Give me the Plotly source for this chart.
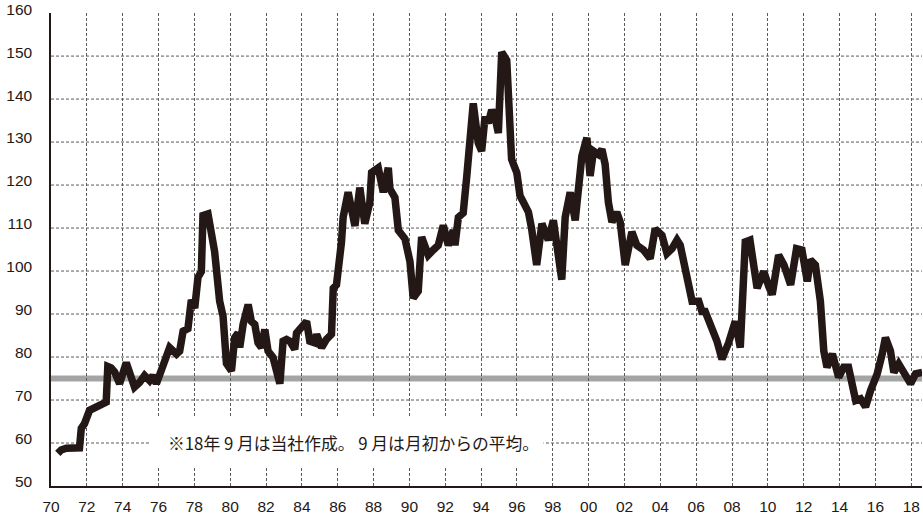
import plotly.graph_objects as go

# ---- data ----
years = [
    1970.38, 1970.57, 1970.85, 1971.22, 1971.59, 1971.69, 1971.87, 1972.15, 1972.61, 1972.99,
    1973.08, 1973.17, 1973.35, 1973.55, 1973.83, 1974.20, 1974.66, 1974.94, 1975.22, 1975.50,
    1975.69, 1975.88, 1976.25, 1976.62, 1977.00, 1977.18, 1977.37, 1977.64, 1977.83, 1978.02,
    1978.20, 1978.39, 1978.48, 1978.76, 1979.13, 1979.41, 1979.60, 1979.79, 1980.07, 1980.25,
    1980.44, 1980.53, 1980.72, 1981.00, 1981.18, 1981.37, 1981.55, 1981.74, 1981.93, 1982.11,
    1982.39, 1982.58, 1982.77, 1982.95, 1983.14, 1983.32, 1983.60, 1983.70, 1983.98, 1984.26,
    1984.44, 1984.72, 1984.82, 1985.10, 1985.37, 1985.65, 1985.75, 1985.93, 1986.21, 1986.30,
    1986.58, 1986.86, 1986.96, 1987.23, 1987.51, 1987.79, 1987.89, 1988.26, 1988.54, 1988.82,
    1988.91, 1989.19, 1989.38, 1989.75, 1990.03, 1990.21, 1990.49, 1990.68, 1991.05, 1991.33,
    1991.61, 1991.89, 1992.17, 1992.45, 1992.54, 1992.73, 1993.00, 1993.20, 1993.38, 1993.56,
    1993.84, 1994.03, 1994.22, 1994.40, 1994.59, 1994.78, 1994.96, 1995.15, 1995.43, 1995.61,
    1995.70, 1995.99, 1996.17, 1996.36, 1996.64, 1996.82, 1997.10, 1997.39, 1997.75, 1998.03,
    1998.50, 1998.69, 1998.97, 1999.25, 1999.62, 1999.90, 2000.08, 2000.27, 2000.55, 2000.74,
    2000.92, 2001.10, 2001.30, 2001.57, 2001.76, 2002.04, 2002.41, 2002.69, 2003.06, 2003.43,
    2003.71, 2004.09, 2004.37, 2004.65, 2004.93, 2005.11, 2005.30, 2005.49, 2005.77, 2006.14,
    2006.32, 2006.50, 2006.88, 2007.16, 2007.44, 2007.81, 2008.18, 2008.46, 2008.74, 2009.00,
    2009.40, 2009.77, 2010.05, 2010.24, 2010.60, 2010.90, 2011.27, 2011.60, 2011.90, 2012.20,
    2012.37, 2012.65, 2012.93, 2013.12, 2013.30, 2013.60, 2013.95, 2014.23, 2014.50, 2014.90,
    2015.17, 2015.45, 2015.73, 2016.10, 2016.38, 2016.56, 2016.84, 2017.03, 2017.30, 2017.58,
    2017.96, 2018.24, 2018.61,
]
values = [
    57.6, 58.4, 58.8, 58.8, 58.9, 63.4, 64.5, 67.6, 68.4, 69.1,
    69.5, 77.8, 77.5, 76.5, 73.8, 78.7, 73.0, 74.1, 75.7, 74.5,
    75.7, 73.8, 78.7, 82.2, 80.7, 81.4, 86.0, 86.6, 93.3, 91.4,
    98.5, 99.9, 112.9, 113.3, 104.5, 93.0, 89.5, 78.5, 76.8, 84.5,
    85.6, 82.2, 87.6, 92.2, 88.3, 87.6, 83.3, 82.2, 86.4, 81.4,
    79.9, 76.8, 73.8, 83.7, 84.1, 83.7, 81.8, 85.6, 86.8, 88.3,
    83.7, 83.3, 85.3, 82.2, 84.1, 85.3, 96.0, 96.8, 106.8, 112.5,
    118.3, 110.6, 110.5, 119.4, 111.0, 116.0, 122.9, 124.0, 118.3, 124.0,
    119.1, 117.1, 109.5, 107.5, 102.2, 93.7, 95.3, 107.9, 103.7, 104.9,
    106.0, 110.6, 106.0, 109.5, 106.0, 112.5, 113.5, 122.1, 131.7, 139.0,
    129.8, 127.9, 136.0, 134.4, 137.5, 135.6, 132.1, 150.9, 149.0, 132.1,
    126.0, 122.9, 117.5, 116.0, 113.7, 109.8, 101.4, 111.0, 107.2, 111.8,
    98.0, 112.5, 118.3, 111.8, 126.7, 131.0, 122.1, 127.9, 127.1, 128.3,
    124.8, 116.0, 111.4, 113.7, 111.4, 101.4, 109.1, 106.0, 104.9, 102.9,
    109.8, 108.3, 104.1, 105.2, 107.2, 106.0, 102.5, 99.9, 93.0, 93.0,
    90.6, 90.6, 86.8, 83.7, 79.5, 83.3, 88.3, 82.2, 106.8, 107.2,
    96.0, 99.9, 96.4, 94.5, 103.7, 101.4, 96.8, 105.2, 104.9, 97.6,
    102.6, 101.4, 93.0, 81.4, 77.6, 80.7, 75.3, 77.6, 77.6, 69.9,
    70.3, 68.4, 72.2, 76.1, 80.7, 84.5, 81.4, 76.4, 78.4, 76.1,
    73.8, 76.1, 76.4,
]
average_level = 75
x_tick_years = list(range(1970, 2019, 2))
x_tick_labels = [f"{y % 100:02d}" for y in x_tick_years]
y_tick_values = list(range(50, 161, 10))
y_grid_values = list(range(60, 151, 10))
note_text = "※18年 9 月は当社作成。 9 月は月初からの平均。"

INK = "#231815"
GRID = "#5a5a5a"

fig = go.Figure()
fig.add_trace(go.Scatter(
    x=years, y=values, mode="lines",
    line=dict(color=INK, width=7.5),
    hoverinfo="skip", showlegend=False,
))

shapes = []
for v in y_grid_values:
    shapes.append(dict(type="line", xref="paper", yref="y", x0=0, x1=1, y0=v, y1=v,
                       line=dict(color=GRID, width=1, dash="3px,2px"), layer="between"))
# white box behind the note
shapes.append(dict(type="rect", xref="x", yref="y", x0=1975.5, x1=1997.48, y0=54.5, y1=66.0,
                   fillcolor="white", line=dict(width=0), layer="between"))
# average line
shapes.append(dict(type="line", xref="paper", yref="y", x0=0, x1=1,
                   y0=average_level, y1=average_level,
                   line=dict(color="#a3a5a4", width=6), layer="between"))

fig.update_layout(
    width=923, height=516,
    margin=dict(l=51, r=1, t=9, b=30),
    paper_bgcolor="white", plot_bgcolor="white",
    font=dict(family="Arial, Liberation Sans, sans-serif", color=INK, size=15),
    shapes=shapes,
    annotations=[dict(
        x=1986.9, y=60, xref="x", yref="y", text=note_text, showarrow=False,
        font=dict(family="Noto Sans CJK JP", size=16.8, color=INK),
    )],
    xaxis=dict(
        range=[1970, 2018.6], tickvals=x_tick_years, ticktext=x_tick_labels,
        showgrid=True, gridcolor=GRID, gridwidth=1, griddash="3px,2px",
        showline=True, linecolor=INK, linewidth=1.5, ticks="",
        ticklabelstandoff=6, tickfont=dict(size=15.5, color=INK), zeroline=False,
    ),
    yaxis=dict(
        range=[50, 160.02], tickvals=y_tick_values,
        showgrid=False, showline=True, linecolor=INK, linewidth=1.5, ticks="",
        ticklabelstandoff=14, ticklabelshift=-4, ticklabeloverflow="allow",
        tickfont=dict(size=15.5, color=INK), zeroline=False,
    ),
)

fig.write_html("out.html", post_script="document.body.style.margin='0';",
               config={"displayModeBar": False})
